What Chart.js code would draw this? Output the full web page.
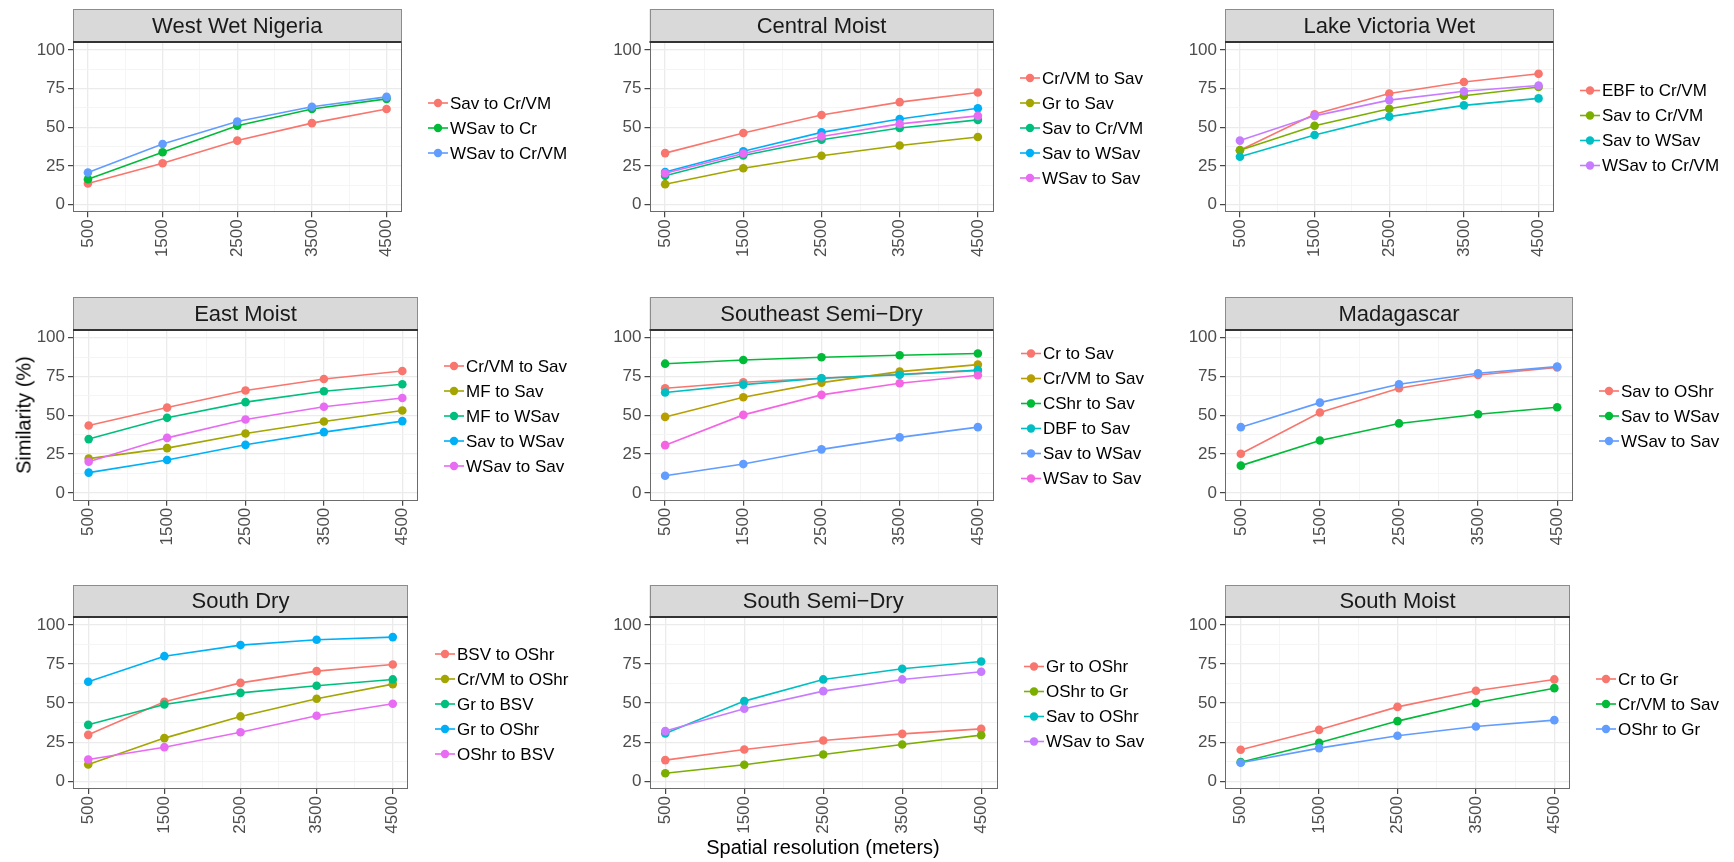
<!DOCTYPE html>
<html>
<head>
<meta charset="utf-8">
<title>Similarity by spatial resolution</title>
<script src="https://cdn.jsdelivr.net/npm/chart.js@4"></script>
<style>
body { margin: 0; background: #fff; width: 1734px; height: 862px; position: relative; overflow: hidden;
       font-family: "Liberation Sans", Arial, sans-serif; }
canvas { position: absolute; }
.axis-title { position: absolute; font-size: 20px; color: #000; white-space: nowrap; z-index: 5; }
</style>
</head>
<body>
<div class="axis-title" id="ytitle" style="left:24px;top:415px;transform:translate(-50%,-50%) rotate(-90deg);">Similarity (%)</div>
<div class="axis-title" id="xtitle" style="left:823px;top:847px;transform:translate(-50%,-50%);">Spatial resolution (meters)</div>
<script>
// data
var xValues = [500, 1500, 2500, 3500, 4500];
var xTickLabels = [500, 1500, 2500, 3500, 4500];
var yTickLabels = [0, 25, 50, 75, 100];

var panelTitles = ['West Wet Nigeria', 'Central Moist', 'Lake Victoria Wet',
                   'East Moist', 'Southeast Semi\u2212Dry', 'Madagascar',
                   'South Dry', 'South Semi\u2212Dry', 'South Moist'];

var westWetNigeriaSeries = ['Sav to Cr/VM', 'WSav to Cr', 'WSav to Cr/VM'];
var westWetNigeriaValues = [
  [13.6, 26.7, 41.4, 52.7, 61.8],
  [16.4, 33.9, 51.0, 61.8, 68.4],
  [20.7, 39.2, 53.7, 63.3, 69.7]
];

var centralMoistSeries = ['Cr/VM to Sav', 'Gr to Sav', 'Sav to Cr/VM', 'Sav to WSav', 'WSav to Sav'];
var centralMoistValues = [
  [33.3, 46.3, 58.0, 66.3, 72.5],
  [13.2, 23.5, 31.6, 38.2, 43.7],
  [18.6, 31.8, 42.0, 49.5, 54.8],
  [21.1, 34.5, 46.7, 55.4, 62.3],
  [20.3, 33.0, 44.1, 52.2, 57.4]
];

var lakeVictoriaSeries = ['EBF to Cr/VM', 'Sav to Cr/VM', 'Sav to WSav', 'WSav to Cr/VM'];
var lakeVictoriaValues = [
  [35.2, 58.4, 71.9, 79.3, 84.6],
  [35.2, 51.0, 62.0, 70.4, 76.1],
  [30.9, 45.0, 56.9, 64.2, 68.7],
  [41.4, 57.4, 67.6, 73.3, 77.0]
];

var eastMoistSeries = ['Cr/VM to Sav', 'MF to Sav', 'MF to WSav', 'Sav to WSav', 'WSav to Sav'];
var eastMoistValues = [
  [43.5, 55.0, 66.0, 73.4, 78.6],
  [22.1, 28.9, 38.3, 46.0, 53.1],
  [34.7, 48.4, 58.5, 65.5, 70.0],
  [13.1, 21.2, 31.0, 39.2, 46.3],
  [20.1, 35.5, 47.3, 55.5, 61.2]
];

var southeastSemiDrySeries = ['Cr to Sav', 'Cr/VM to Sav', 'CShr to Sav', 'DBF to Sav', 'Sav to WSav', 'WSav to Sav'];
var southeastSemiDryValues = [
  [67.5, 71.3, 73.9, 76.4, 78.8],
  [49.0, 61.7, 71.1, 78.2, 82.7],
  [83.3, 85.7, 87.4, 88.7, 89.9],
  [64.7, 69.8, 73.9, 76.2, 79.2],
  [11.1, 18.6, 28.1, 35.8, 42.4],
  [30.8, 50.3, 63.2, 70.7, 75.8]
];

var madagascarSeries = ['Sav to OShr', 'Sav to WSav', 'WSav to Sav'];
var madagascarValues = [
  [25.3, 51.8, 67.5, 76.0, 80.9],
  [17.6, 33.8, 44.8, 50.7, 55.2],
  [42.4, 58.2, 70.0, 77.1, 81.4]
];

var southDrySeries = ['BSV to OShr', 'Cr/VM to OShr', 'Gr to BSV', 'Gr to OShr', 'OShr to BSV'];
var southDryValues = [
  [29.7, 50.9, 63.0, 70.5, 74.8],
  [10.7, 27.6, 41.5, 52.8, 62.2],
  [36.1, 49.1, 56.6, 61.1, 65.2],
  [63.7, 80.1, 87.2, 90.6, 92.3],
  [13.9, 21.8, 31.4, 41.9, 49.6]
];

var southSemiDrySeries = ['Gr to OShr', 'OShr to Gr', 'Sav to OShr', 'WSav to Sav'];
var southSemiDryValues = [
  [13.5, 20.3, 26.1, 30.3, 33.5],
  [5.1, 10.5, 17.1, 23.5, 29.5],
  [30.6, 51.3, 65.2, 72.0, 76.7],
  [32.1, 46.4, 57.7, 65.2, 70.1]
];

var southMoistSeries = ['Cr to Gr', 'Cr/VM to Sav', 'OShr to Gr'];
var southMoistValues = [
  [20.1, 32.9, 47.6, 57.9, 65.2],
  [12.2, 24.6, 38.5, 50.2, 59.6],
  [11.8, 21.2, 29.1, 35.0, 39.1]
];

var panelSeries = [westWetNigeriaSeries, centralMoistSeries, lakeVictoriaSeries,
                   eastMoistSeries, southeastSemiDrySeries, madagascarSeries,
                   southDrySeries, southSemiDrySeries, southMoistSeries];
var panelValues = [westWetNigeriaValues, centralMoistValues, lakeVictoriaValues,
                   eastMoistValues, southeastSemiDryValues, madagascarValues,
                   southDryValues, southSemiDryValues, southMoistValues];

// ggplot hue palettes
var palettes = {
  3: ['#F8766D', '#00BA38', '#619CFF'],
  4: ['#F8766D', '#7CAE00', '#00BFC4', '#C77CFF'],
  5: ['#F8766D', '#A3A500', '#00BF7D', '#00B0F6', '#E76BF3'],
  6: ['#F8766D', '#B79F00', '#00BA38', '#00BFC4', '#619CFF', '#F564E3']
};

// page geometry (pixels)
var panelLeft  = [73, 649.5, 1225, 73, 649.5, 1225, 73, 649.5, 1225];
var panelRight = [401.5, 993.5, 1553.5, 418, 993.5, 1573, 408, 997, 1570];
var legendKeyX = [428, 1020, 1580, 444, 1021, 1599, 435, 1024, 1596];
var rowStripTop  = [9, 297.3, 585];
var rowPlotTop   = [42.3, 330, 617.3];
var rowPlotBottom = [212.3, 500.7, 789];
var rowLegendY   = [128, 416, 704];

var fontFamily = '"Liberation Sans", Arial, sans-serif';

var ggPlugin = {
  id: 'gg',
  afterDatasetsDraw: function(chart) {
    var a = chart.chartArea, ctx = chart.ctx;
    ctx.save();
    ctx.strokeStyle = '#6b6b6b';
    ctx.lineWidth = 1;
    ctx.strokeRect(Math.round(a.left) + 0.5, Math.round(a.top) + 0.5,
                   Math.round(a.right - a.left) - 1, Math.round(a.bottom - a.top) - 1);
    ctx.restore();
  },
  afterDraw: function(chart, args, opts) {
    var a = chart.chartArea, ctx = chart.ctx;
    ctx.save();
    // strip
    var st = opts.stripTop;
    ctx.fillStyle = '#D9D9D9';
    ctx.fillRect(a.left, st, a.right - a.left, a.top - st);
    ctx.strokeStyle = '#8c8c8c';
    ctx.lineWidth = 1;
    ctx.strokeRect(Math.round(a.left) + 0.5, Math.round(st) + 0.5,
                   Math.round(a.right - a.left) - 1, Math.round(a.top - st));
    ctx.strokeStyle = '#333';
    ctx.lineWidth = 2;
    ctx.beginPath();
    ctx.moveTo(a.left, Math.round(a.top));
    ctx.lineTo(a.right, Math.round(a.top));
    ctx.stroke();
    ctx.fillStyle = '#1A1A1A';
    ctx.font = '22px ' + fontFamily;
    ctx.textAlign = 'center';
    ctx.textBaseline = 'middle';
    ctx.fillText(opts.title, (a.left + a.right) / 2, (st + a.top) / 2 + 1);

    // legend
    var sets = chart.data.datasets;
    var n = sets.length;
    ctx.font = '17px ' + fontFamily;
    ctx.textAlign = 'left';
    for (var i = 0; i < n; i++) {
      var y = opts.legendY + (i - (n - 1) / 2) * 25;
      var c = sets[i].borderColor;
      ctx.strokeStyle = c;
      ctx.lineWidth = 1.6;
      ctx.beginPath();
      ctx.moveTo(opts.keyX, y);
      ctx.lineTo(opts.keyX + 20, y);
      ctx.stroke();
      ctx.fillStyle = c;
      ctx.beginPath();
      ctx.arc(opts.keyX + 10, y, 4.2, 0, Math.PI * 2);
      ctx.fill();
      ctx.fillStyle = '#000';
      ctx.fillText(sets[i].label, opts.keyX + 22, y + 1);
    }
    ctx.restore();
  }
};

function isMajorX(v) { return xTickLabels.indexOf(v) >= 0; }
function isMajorY(v) { return yTickLabels.indexOf(v) >= 0; }

function buildPanel(i) {
  var row = Math.floor(i / 3);
  var L = panelLeft[i], R = panelRight[i];
  var cLeft = Math.floor(L - 73);
  var cTop = Math.floor(rowStripTop[row] - 2);
  var cRight = Math.min(legendKeyX[i] + 152, 1734);
  var cW = cRight - cLeft;
  var cBottom = Math.ceil(rowPlotBottom[row] + 62);
  var cH = cBottom - cTop;

  var canvas = document.createElement('canvas');
  canvas.width = cW; canvas.height = cH;
  canvas.style.left = cLeft + 'px'; canvas.style.top = cTop + 'px';
  canvas.style.width = cW + 'px'; canvas.style.height = cH + 'px';
  document.body.appendChild(canvas);

  var names = panelSeries[i], vals = panelValues[i];
  var colors = palettes[names.length];
  var datasets = names.map(function(name, k) {
    return {
      label: name,
      data: vals[k].map(function(v, j) { return { x: xValues[j], y: v }; }),
      borderColor: colors[k],
      backgroundColor: colors[k],
      pointBackgroundColor: colors[k],
      pointBorderWidth: 0,
      pointRadius: 4.3,
      borderWidth: 1.6,
      tension: 0,
      fill: false,
      order: names.length - 1 - k
    };
  });

  var yAxisWidth = L - cLeft;
  var xAxisHeight = cBottom - rowPlotBottom[row];

  new Chart(canvas.getContext('2d'), {
    type: 'line',
    data: { datasets: datasets },
    plugins: [ggPlugin],
    options: {
      responsive: false,
      animation: false,
      events: [],
      layout: { padding: { left: 0, top: rowPlotTop[row] - cTop, right: cW - (R - cLeft), bottom: 0 } },
      scales: {
        x: {
          type: 'linear', min: 300, max: 4700, bounds: 'data',
          afterBuildTicks: function(s) {
            s.ticks = [500, 1000, 1500, 2000, 2500, 3000, 3500, 4000, 4500].map(function(v) { return { value: v }; });
          },
          afterFit: function(s) { s.height = xAxisHeight; },
          ticks: {
            autoSkip: false, minRotation: 90, maxRotation: 90, padding: 2,
            color: '#4D4D4D', font: { family: fontFamily, size: 17 },
            callback: function(v) { return isMajorX(v) ? String(v) : ''; }
          },
          grid: {
            color: function(c) { return c.tick && isMajorX(c.tick.value) ? '#EBEBEB' : '#F4F4F4'; },
            lineWidth: function(c) { return c.tick && isMajorX(c.tick.value) ? 1.3 : 0.9; },
            tickLength: 5,
            tickColor: function(c) { return c.tick && isMajorX(c.tick.value) ? '#333333' : 'rgba(0,0,0,0)'; },
            tickWidth: 1.1
          },
          border: { display: false }
        },
        y: {
          type: 'linear', min: -5, max: 105, bounds: 'data',
          afterBuildTicks: function(s) {
            s.ticks = [0, 12.5, 25, 37.5, 50, 62.5, 75, 87.5, 100].map(function(v) { return { value: v }; });
          },
          afterFit: function(s) { s.width = yAxisWidth; },
          ticks: {
            autoSkip: false, padding: 3,
            color: '#4D4D4D', font: { family: fontFamily, size: 17 },
            callback: function(v) { return isMajorY(v) ? String(v) : ''; }
          },
          grid: {
            color: function(c) { return c.tick && isMajorY(c.tick.value) ? '#EBEBEB' : '#F4F4F4'; },
            lineWidth: function(c) { return c.tick && isMajorY(c.tick.value) ? 1.3 : 0.9; },
            tickLength: 5,
            tickColor: function(c) { return c.tick && isMajorY(c.tick.value) ? '#333333' : 'rgba(0,0,0,0)'; },
            tickWidth: 1.1
          },
          border: { display: false }
        }
      },
      plugins: {
        legend: { display: false },
        tooltip: { enabled: false },
        gg: {
          title: panelTitles[i],
          stripTop: rowStripTop[row] - cTop,
          legendY: rowLegendY[row] - cTop,
          keyX: legendKeyX[i] - cLeft
        }
      }
    }
  });
}

for (var p = 0; p < 9; p++) buildPanel(p);
</script>
</body>
</html>
